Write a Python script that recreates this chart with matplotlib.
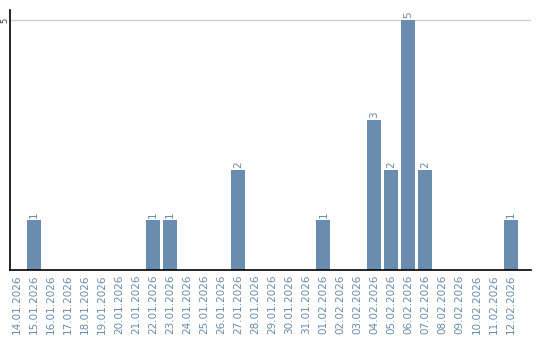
import matplotlib
matplotlib.use("Agg")
import matplotlib.pyplot as plt
from matplotlib.transforms import offset_copy

dates = ["14.01.2026", "15.01.2026", "16.01.2026", "17.01.2026", "18.01.2026",
         "19.01.2026", "20.01.2026", "21.01.2026", "22.01.2026", "23.01.2026",
         "24.01.2026", "25.01.2026", "26.01.2026", "27.01.2026", "28.01.2026",
         "29.01.2026", "30.01.2026", "31.01.2026", "01.02.2026", "02.02.2026",
         "03.02.2026", "04.02.2026", "05.02.2026", "06.02.2026", "07.02.2026",
         "08.02.2026", "09.02.2026", "10.02.2026", "11.02.2026", "12.02.2026"]
counts = [0, 1, 0, 0, 0, 0, 0, 0, 1, 1,
          0, 0, 0, 2, 0, 0, 0, 0, 1, 0,
          0, 3, 2, 5, 2, 0, 0, 0, 0, 1]

bar_col = '#6a8caf'
txt_col = '#6a8caf'

fig = plt.figure(figsize=(5.4, 3.4), dpi=100)
ax = fig.add_axes([10/540, 1-270/340, 521/540, 260/340])

x = range(len(dates))
bars = ax.bar(x, counts, width=0.82, color=bar_col, zorder=2)
for b, v in zip(bars, counts):
    if v > 0:
        ax.text(b.get_x() + b.get_width()/2, v + 0.05, str(v), rotation=90,
                ha='center', va='bottom', fontsize=7.5, color=txt_col)

ax.set_xlim(-0.41, 30.2)
ax.set_ylim(0, 5.2)
ax.set_xticks(list(x))
ax.set_xticklabels(dates, rotation=90, fontsize=7.5, color=txt_col, va='top')
ax.set_yticks([5])
ax.set_yticklabels([])
# y tick label "5", drawn by hand so it sits in the narrow left margin
trans = offset_copy(ax.get_yaxis_transform(), fig=fig, x=-5, y=0, units='dots')
ax.text(0, 5, '5', transform=trans, rotation=90, ha='center', va='center',
        fontsize=6, color='#333333')
ax.tick_params(axis='both', length=0, pad=3)
ax.yaxis.grid(True, color='#cccccc', linewidth=1, zorder=0)
for s in ['top', 'right']:
    ax.spines[s].set_visible(False)
ax.spines['left'].set_linewidth(1.2)
ax.spines['bottom'].set_linewidth(1.2)

fig.savefig('out.png', dpi=100)
